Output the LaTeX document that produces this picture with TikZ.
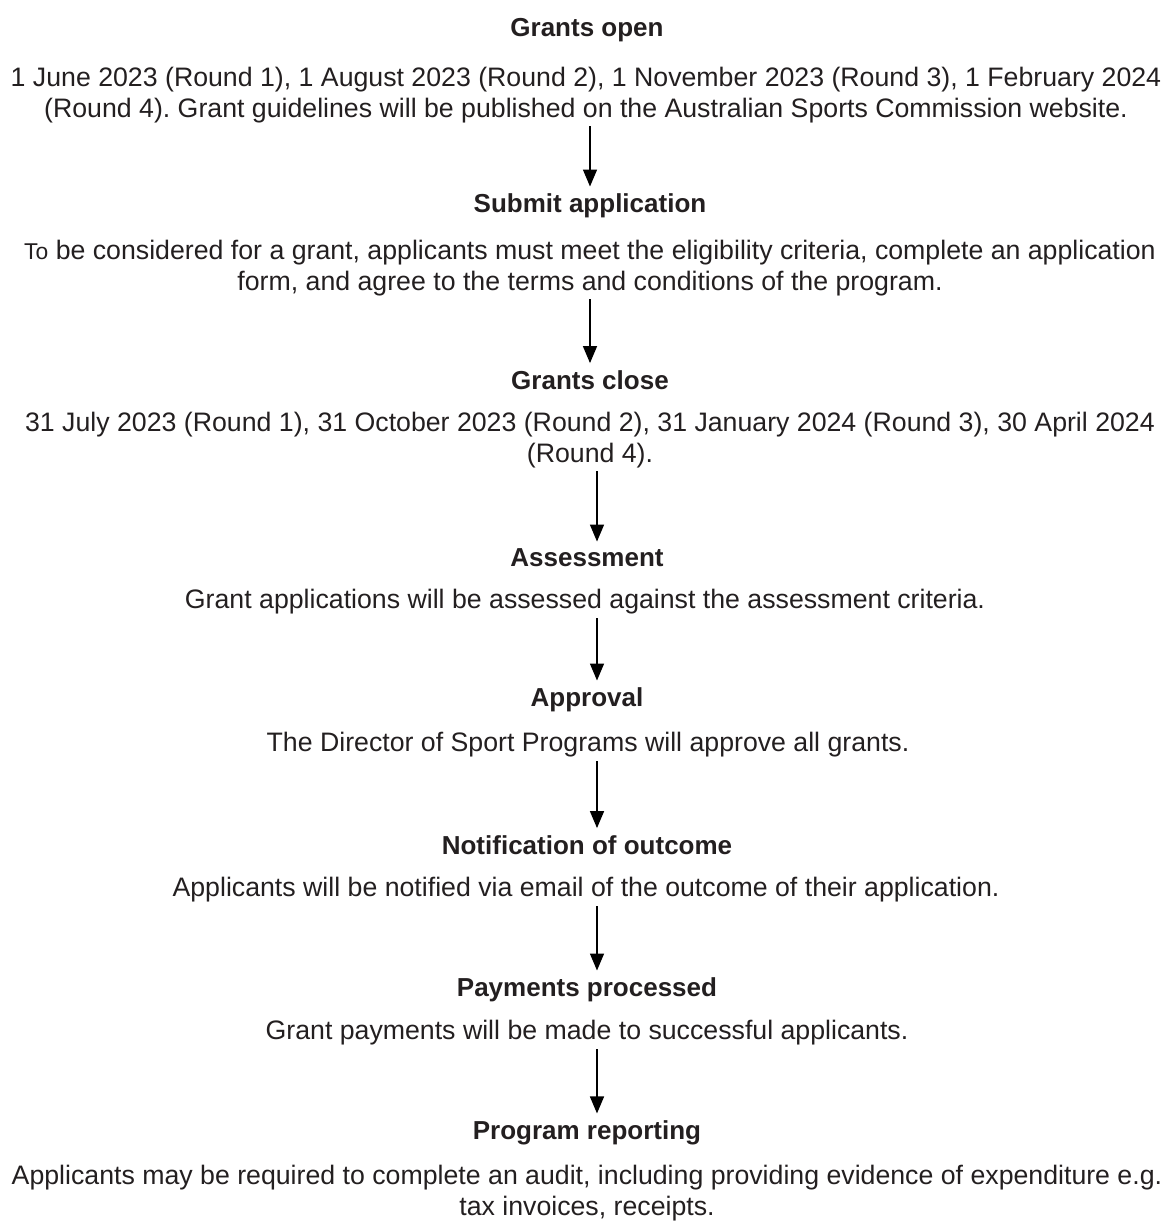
\documentclass[tikz,border=0pt]{standalone}
\usepackage{fontspec}
\setmainfont{Liberation Sans}
\usetikzlibrary{arrows.meta}
\definecolor{txtgray}{HTML}{231F20}
\frenchspacing
\tikzset{
  steptitle/.style={font=\fontsize{14.8}{17.2}\selectfont\bfseries, text=txtgray, inner sep=2pt},
  stepbody/.style={font=\fontsize{15.2}{17.2}\selectfont, text=txtgray, align=center, inner sep=2pt},
  flowarrow/.style={line width=0.03cm, -{Triangle[length=0.34cm, width=0.28cm]}, shorten >=2pt}
}
\begin{document}
\begin{tikzpicture}[x=0.02cm, y=-0.02cm]
                \useasboundingbox (0,0) rectangle (1165,1225);
                
                % Step 1: grants open
                \node [steptitle] (open) at (587,30) {Grants open};
                \node [stepbody] (openbody) at (586,95) {1 June 2023 (Round 1), 1 August 2023 (Round 2), 1 November 2023 (Round 3), 1 February 2024\\(Round 4). Grant guidelines will be published on the Australian Sports Commission website.};
                
                % Step 2: submit application
                \node [steptitle] (submit) at (590,206) {Submit application};
                \node [stepbody] (submitbody) at (590,268) {{\fontsize{13}{17.2}\selectfont To} be considered for a grant, applicants must meet the eligibility criteria, complete an application\\form, and agree to the terms and conditions of the program.};
                
                % Step 3: grants close
                \node [steptitle] (close) at (590,380) {Grants close};
                \node [stepbody] (closebody) at (590,440) {31 July 2023 (Round 1), 31 October 2023 (Round 2), 31 January 2024 (Round 3), 30 April 2024\\(Round 4).};
                
                % Step 4: assessment
                \node [steptitle] (assess) at (587,558) {Assessment};
                \node [stepbody] (assessbody) at (585,602) {Grant applications will be assessed against the assessment criteria.};
                
                % Step 5: approval
                \node [steptitle] (approve) at (587,700) {Approval};
                \node [stepbody] (approvebody) at (588,745) {The Director of Sport Programs will approve all grants.};
                
                % Step 6: notification
                \node [steptitle] (notify) at (587,845) {Notification of outcome};
                \node [stepbody] (notifybody) at (586,890) {Applicants will be notified via email of the outcome of their application.};
                
                % Step 7: payments
                \node [steptitle] (pay) at (587,990) {Payments processed};
                \node [stepbody] (paybody) at (587,1033) {Grant payments will be made to successful applicants.};
                
                % Step 8: reporting
                \node [steptitle] (report) at (587,1133) {Program reporting};
                \node [stepbody] (reportbody) at (587,1193) {Applicants may be required to complete an audit, including providing evidence of expenditure e.g.\\tax invoices, receipts.};
                
                % Drawing arrows between steps
                \draw [flowarrow] (openbody.south -| 590,0) -- (submit.north -| 590,0);
                \draw [flowarrow] (submitbody.south -| 590,0) -- (close.north -| 590,0);
                \draw [flowarrow] (closebody.south -| 597,0) -- (assess.north -| 597,0);
                \draw [flowarrow] (assessbody.south -| 597,0) -- (approve.north -| 597,0);
                \draw [flowarrow] (approvebody.south -| 597,0) -- (notify.north -| 597,0);
                \draw [flowarrow] (notifybody.south -| 597,0) -- (pay.north -| 597,0);
                \draw [flowarrow] (paybody.south -| 597,0) -- (report.north -| 597,0);
                
\end{tikzpicture}
\end{document}
